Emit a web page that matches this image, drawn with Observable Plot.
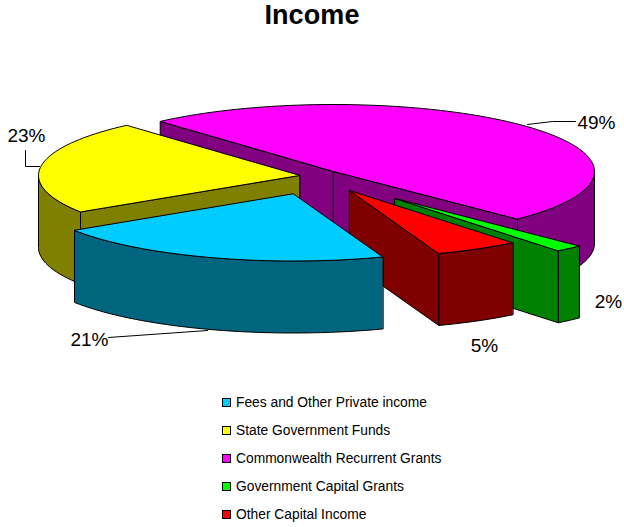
<!DOCTYPE html>
<html><head><meta charset="utf-8">
<script src="https://cdn.jsdelivr.net/npm/d3@7"></script>
<script src="https://cdn.jsdelivr.net/npm/@observablehq/plot@0.6"></script>
<style>
html,body{margin:0;padding:0;background:#fff;font-family:"Liberation Sans",Arial,sans-serif;color:#000;}
#page{width:624px;height:527px;overflow:hidden;position:relative}
#title{height:40px;line-height:31px;text-align:center;font-weight:bold;font-size:27px;letter-spacing:.1px}
#plot svg{display:block}
#legend{position:absolute;left:222px;top:389px}
.row{display:flex;align-items:center;height:27.8px;font-size:13.8px;white-space:nowrap}
.sw{width:7px;height:7px;border:1px solid #000;margin-right:5px;}
</style></head><body>
<div id="page">
<div id="title">Income</div>
<div id="plot"></div>
<div id="legend"></div>
</div>
<script>
// Data
const categories = ["Fees and Other Private income","State Government Funds","Commonwealth Recurrent Grants","Government Capital Grants","Other Capital Income"];
const shares = [21.4, 22.6, 49.1, 1.7, 5.2];
const topColors = ["#00CCFF","#FFFF00","#FF00FF","#00FF00","#FF0000"];
const wallColors = ["#006680","#808000","#800080","#008000","#800000"];

// 3D pie layout (chart units = page pixels)
const firstAngle = 160, rx = 261, ry = 67, depth = 72;
const sliceX = [293, 299, 333, 394.5, 349];
const sliceY = [193.5, 175, 171, 198, 190];
const paintOrder = [2, 1, 3, 4, 0];
const labelX = [89, 26, 596, 608, 484];
const labelY = [339, 135, 122, 301, 345];
const leaders = [
  [[108,337],[207,330]],
  [[39,166],[25,166],[25,150]],
  [[527,124],[552,121],[575,121]]
];

const rad = Math.PI / 180;
const ends = d3.cumsum(shares, v => v * 3.6).map(v => v + firstAngle);
const starts = ends.map((e, i) => e - shares[i] * 3.6);
const pt = (i, deg, drop = 0) => [sliceX[i] + rx * Math.sin(deg * rad), sliceY[i] - ry * Math.cos(deg * rad) + drop];
const arc = (i, a, b, drop = 0) => {
  const n = Math.max(2, Math.ceil(Math.abs(b - a) / 2));
  return d3.range(n + 1).map(k => pt(i, a + (b - a) * k / n, drop));
};
const apex = (i, drop = 0) => [sliceX[i], sliceY[i] + drop];
const poly = (points, fill) => Plot.line(points, {x: d => d[0], y: d => d[1], fill, stroke: "#000", strokeWidth: 1, curve: "linear-closed"});

// visible portion of outer wall: the arc's front half, angles in 90..270 (mod 360)
function wallRanges(a, b) {
  const out = [];
  for (const k of [-360, 0, 360]) {
    const lo = Math.max(a, 90 + k), hi = Math.min(b, 270 + k);
    if (hi > lo) out.push([lo, hi]);
  }
  return out;
}

const marks = [];
for (const i of paintOrder) {
  const a = starts[i], b = ends[i];
  for (const [lo, hi] of wallRanges(a, b)) {
    marks.push(poly([...arc(i, lo, hi), ...arc(i, hi, lo, depth)], wallColors[i]));
  }
  if (Math.sin(a * rad) < 0) marks.push(poly([apex(i), pt(i, a), pt(i, a, depth), apex(i, depth)], wallColors[i]));
  if (Math.sin(b * rad) > 0) marks.push(poly([apex(i), pt(i, b), pt(i, b, depth), apex(i, depth)], wallColors[i]));
  marks.push(poly([apex(i), ...arc(i, a, b)], topColors[i]));
}
for (const l of leaders) {
  marks.push(Plot.line(l, {x: d => d[0], y: d => d[1], stroke: "#000", strokeWidth: 1}));
}
marks.push(Plot.text(shares, {
  x: (d, i) => labelX[i], y: (d, i) => labelY[i],
  text: d => Math.round(d) + "%",
  fontSize: 19, fill: "#000", textAnchor: "middle", lineAnchor: "middle"
}));

const chart = Plot.plot({
  width: 624, height: 340,
  margin: 0,
  x: {domain: [0, 624], range: [0, 624], axis: null},
  y: {domain: [40, 380], range: [0, 340], axis: null},
  style: {fontFamily: '"Liberation Sans",Arial,sans-serif', background: "transparent", overflow: "visible"},
  marks
});
document.getElementById("plot").appendChild(chart);

const legend = document.getElementById("legend");
categories.forEach((c, i) => {
  const r = document.createElement("div"); r.className = "row";
  const s = document.createElement("span"); s.className = "sw"; s.style.background = topColors[i];
  const t = document.createElement("span"); t.textContent = c;
  r.append(s, t); legend.append(r);
});
</script>
</body></html>
